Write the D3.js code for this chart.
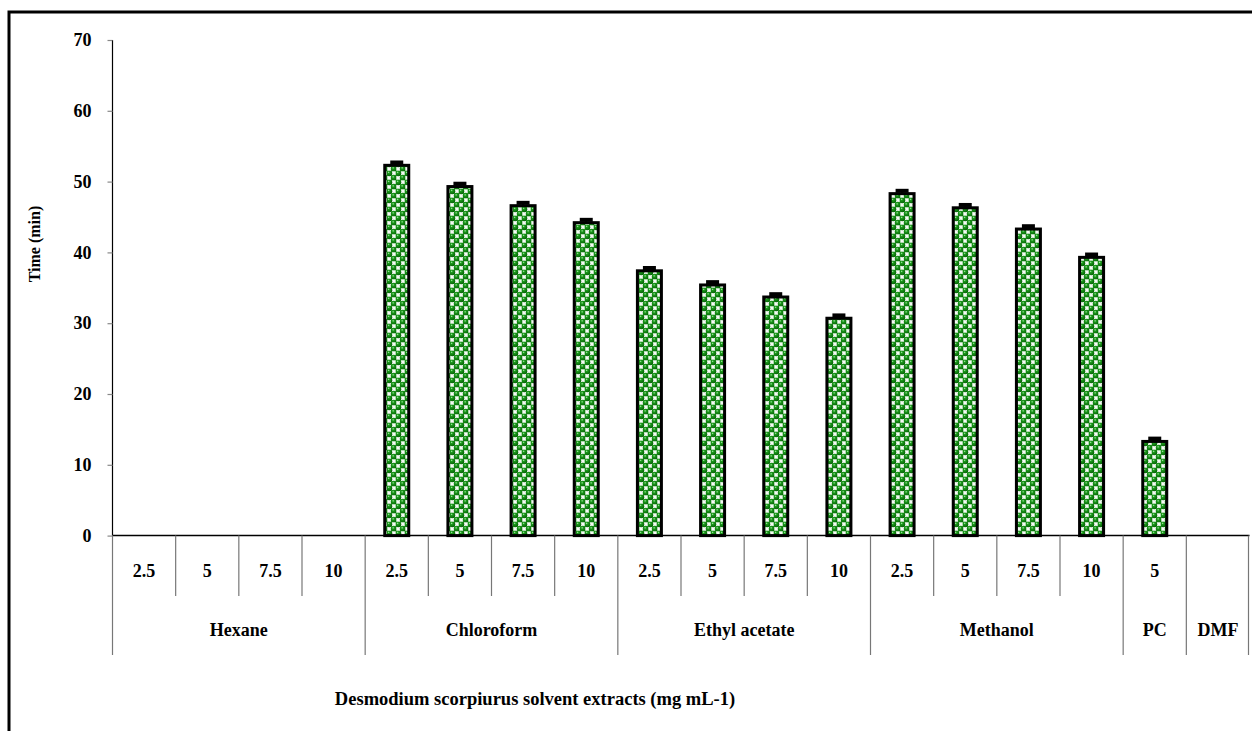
<!DOCTYPE html>
<html>
<head>
<meta charset="utf-8">
<script src="https://cdn.jsdelivr.net/npm/d3@7"></script>
<style>
  html, body { margin: 0; padding: 0; background: #fff; }
  svg { display: block; }
  svg text { font-family: "Liberation Serif", "Times New Roman", Times, "DejaVu Serif", serif !important; font-weight: bold; fill: #000; }
</style>
</head>
<body>
<svg id="chart" width="1252" height="731"></svg>
<script>
// ---- data ----
const groups = ["Hexane", "Chloroform", "Ethyl acetate", "Methanol", "PC", "DMF"];
const doses = [
  ["2.5", "5", "7.5", "10"],
  ["2.5", "5", "7.5", "10"],
  ["2.5", "5", "7.5", "10"],
  ["2.5", "5", "7.5", "10"],
  ["5"],
  [""]
];
const hexaneValues = [0, 0, 0, 0];
const chloroformValues = [52.3, 49.3, 46.6, 44.2];
const ethylAcetateValues = [37.4, 35.4, 33.7, 30.7];
const methanolValues = [48.3, 46.3, 43.3, 39.3];
const pcValues = [13.3];
const dmfValues = [0];
const errorValues = [
  [0, 0, 0, 0],
  [0.4, 0.4, 0.4, 0.4],
  [0.4, 0.4, 0.4, 0.4],
  [0.4, 0.4, 0.4, 0.4],
  [0.4],
  [0]
];
const yTicks = [0, 10, 20, 30, 40, 50, 60, 70];
const yTitle = "Time (min)";
const xTitle = "Desmodium scorpiurus solvent extracts (mg mL-1)";

const groupValues = [hexaneValues, chloroformValues, ethylAcetateValues, methanolValues, pcValues, dmfValues];

// flatten to categories
const rows = [];
groups.forEach((g, gi) => {
  doses[gi].forEach((d, di) => {
    rows.push({ id: gi + "_" + di, group: g, gi, dose: d, value: groupValues[gi][di], err: errorValues[gi][di] });
  });
});

// ---- layout ----
const FONT = "'Liberation Serif', 'Times New Roman', Times, serif";
const svg = d3.select("#chart");
const pLeft = 112.5, pRight = 1249.5, pTop = 40, pBottom = 535.6;

const x = d3.scaleBand().domain(rows.map(r => r.id)).range([pLeft, pRight]).paddingInner(0).paddingOuter(0);
const y = d3.scaleLinear().domain([0, 70]).range([pBottom, pTop]);
const bw = x.bandwidth();
const barW = 24;

// outer frame
svg.append("rect").attr("x", 9).attr("y", 12).attr("width", 1300).attr("height", 800)
  .attr("fill", "none").attr("stroke", "#000").attr("stroke-width", 3);

// pattern: green balls in a checkerboard with light squares
const defs = svg.append("defs");
const grad = defs.append("radialGradient").attr("id", "ball").attr("cx", "40%").attr("cy", "35%").attr("r", "65%");
grad.append("stop").attr("offset", "0%").attr("stop-color", "#b0ecb0");
grad.append("stop").attr("offset", "28%").attr("stop-color", "#1c9a1c");
grad.append("stop").attr("offset", "100%").attr("stop-color", "#066206");
const T = 9, h = T / 2;
const pat = defs.append("pattern").attr("id", "balls").attr("patternUnits", "userSpaceOnUse")
  .attr("width", T).attr("height", T);
pat.append("rect").attr("width", T).attr("height", T).attr("fill", "#5aae5a");
pat.append("rect").attr("x", h + h / 2 - 1.8).attr("y", h / 2 - 1.8).attr("width", 3.6).attr("height", 3.6).attr("fill", "#f6faf6");
pat.append("rect").attr("x", h / 2 - 1.8).attr("y", h + h / 2 - 1.8).attr("width", 3.6).attr("height", 3.6).attr("fill", "#f6faf6");
[[h / 2, h / 2], [h + h / 2, h + h / 2]].forEach(([cx, cy]) => {
  pat.append("circle").attr("cx", cx).attr("cy", cy).attr("r", 3.0).attr("fill", "url(#ball)");
});

// y axis
const yAxis = d3.axisLeft(y).tickValues(yTicks).tickSize(5).tickPadding(16).tickFormat(d3.format("d"));
const gy = svg.append("g").attr("transform", `translate(${pLeft},0)`).call(yAxis);
gy.attr("font-family", FONT);
gy.select(".domain").attr("stroke", "#000").attr("stroke-width", 1.2).attr("d", `M0,${pTop}V${pBottom}`);
gy.selectAll(".tick line").attr("stroke", "#888").attr("stroke-width", 1.2);
gy.selectAll(".tick text").attr("font-size", 18).attr("font-weight", "bold").attr("fill", "#000");

// bars
const bars = svg.append("g");
rows.filter(r => r.value > 0).forEach(r => {
  const cx = x(r.id) + bw / 2;
  bars.append("rect")
    .attr("x", cx - barW / 2).attr("y", y(r.value))
    .attr("width", barW).attr("height", y(0) - y(r.value))
    .attr("fill", "url(#balls)").attr("stroke", "#000").attr("stroke-width", 3);
  // error bar
  bars.append("line").attr("x1", cx).attr("x2", cx)
    .attr("y1", y(r.value)).attr("y2", y(r.value + r.err))
    .attr("stroke", "#000").attr("stroke-width", 2);
  bars.append("line").attr("x1", cx - 6.5).attr("x2", cx + 6.5)
    .attr("y1", y(r.value + r.err)).attr("y2", y(r.value + r.err))
    .attr("stroke", "#000").attr("stroke-width", 4);
});

// x axis (baseline)
svg.append("line").attr("x1", pLeft).attr("x2", pRight).attr("y1", pBottom).attr("y2", pBottom)
  .attr("stroke", "#000").attr("stroke-width", 1.5);

// category separators
const sepG = svg.append("g").attr("stroke", "#777").attr("stroke-width", 1.2);
const subBottom = 596, groupBottom = 655;
rows.forEach((r, i) => {
  const xs = x(r.id);
  const isGroupStart = i === 0 || rows[i - 1].gi !== r.gi;
  sepG.append("line").attr("x1", xs).attr("x2", xs).attr("y1", pBottom)
    .attr("y2", isGroupStart ? groupBottom : subBottom);
});
sepG.append("line").attr("x1", pRight - 1).attr("x2", pRight - 1).attr("y1", pBottom).attr("y2", groupBottom);

// dose labels
svg.append("g").selectAll("text").data(rows).join("text")
  .attr("x", r => x(r.id) + bw / 2).attr("y", 577)
  .attr("text-anchor", "middle").attr("font-size", 18).attr("font-family", FONT)
  .text(r => r.dose);

// group labels
svg.append("g").selectAll("text").data(groups).join("text")
  .attr("x", (g, gi) => {
    const ids = rows.filter(r => r.gi === gi).map(r => r.id);
    return (x(ids[0]) + x(ids[ids.length - 1]) + bw) / 2;
  })
  .attr("y", 636).attr("text-anchor", "middle").attr("font-size", 18).attr("font-family", FONT)
  .text(g => g);

// axis titles
svg.append("text").attr("transform", "translate(40,244) rotate(-90)")
  .attr("text-anchor", "middle").attr("font-size", 16).attr("font-family", FONT).text(yTitle);
svg.append("text").attr("x", 535).attr("y", 705)
  .attr("text-anchor", "middle").attr("font-size", 18.5).attr("font-family", FONT).text(xTitle);
</script>
</body>
</html>
